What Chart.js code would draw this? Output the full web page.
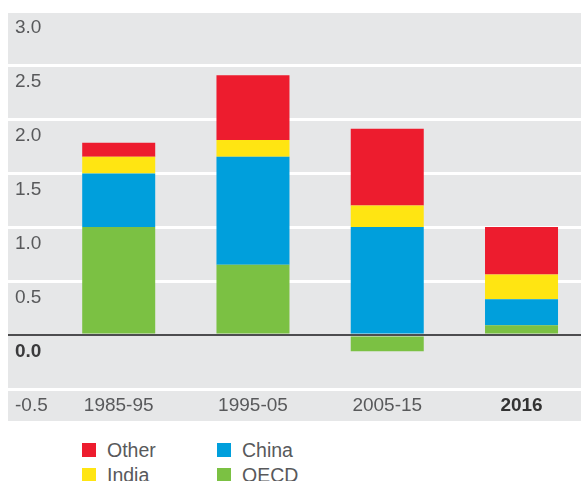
<!DOCTYPE html>
<html>
<head>
<meta charset="utf-8">
<script src="https://cdn.jsdelivr.net/npm/chart.js@4.4.1/dist/chart.umd.min.js"></script>
<style>
  html, body { margin: 0; padding: 0; background: #ffffff; overflow: hidden; }
  #wrap { position: relative; width: 581px; height: 481px; }
  #c { position: absolute; left: 0; top: 0; }
  .lg { position: absolute; font-family: "Liberation Sans", Arial, sans-serif; font-size: 19.5px; color: #58595b; line-height: 20px; white-space: nowrap; }
  .lg .sw { position: absolute; left: 0; top: 3px; width: 14px; height: 14px; }
  .lg .tx { position: absolute; left: 25px; top: 0; }
</style>
</head>
<body>
<div id="wrap">
  <canvas id="c" width="581" height="421"></canvas>
</div>
<script>
// ---- data ----
const categories = ['1985-95', '1995-05', '2005-15', '2016'];
const oecd  = [1.00, 0.65, -0.15, 0.09];
const china = [0.495, 1.00, 1.00, 0.24];
const india = [0.155, 0.155, 0.20, 0.23];
const other = [0.13, 0.60, 0.71, 0.44];
const yTickLabels = ['-0.5', '0.0', '0.5', '1.0', '1.5', '2.0', '2.5', '3.0'];
const seriesNames = ['OECD', 'China', 'India', 'Other'];
const legendOrder = ['Other', 'China', 'India', 'OECD'];

const colors = { OECD: '#7bc143', China: '#009fdc', India: '#ffe512', Other: '#ed1c2e' };
const seriesData = { OECD: oecd, China: china, India: india, Other: other };

const FONT = '"Liberation Sans", Arial, sans-serif';

const datasets = seriesNames.map(name => ({
  label: name,
  data: seriesData[name].map((v, i) => ({ x: i, y: v })),
  backgroundColor: colors[name],
  borderWidth: 0,
  categoryPercentage: 1.0,
  barPercentage: 0.5437
}));

const panelPlugin = {
  id: 'panel',
  beforeDraw(chart) {
    const { ctx, chartArea, scales } = chart;
    ctx.save();
    ctx.fillStyle = '#e6e7e8';
    ctx.fillRect(chartArea.left, chartArea.top, chartArea.right - chartArea.left, scales.x.bottom - chartArea.top);
    ctx.restore();
  },
  afterDatasetsDraw(chart) {
    const { ctx, chartArea, scales } = chart;
    const y0 = scales.y.getPixelForValue(0);
    ctx.save();
    ctx.strokeStyle = '#4d4d4f';
    ctx.lineWidth = 2;
    ctx.beginPath();
    ctx.moveTo(chartArea.left, y0);
    ctx.lineTo(chartArea.right, y0);
    ctx.stroke();
    ctx.restore();
  }
};

new Chart(document.getElementById('c'), {
  type: 'bar',
  data: { datasets },
  plugins: [panelPlugin],
  options: {
    responsive: false,
    animation: false,
    devicePixelRatio: 1,
    layout: { padding: { top: 11, left: 8, right: 0, bottom: 0 } },
    plugins: { legend: { display: false }, tooltip: { enabled: false } },
    scales: {
      x: {
        type: 'linear',
        stacked: true,
        offset: false,
        min: -0.8245,
        max: 3.443,
        grid: { display: false, drawTicks: false, offset: false },
        border: { display: false },
        ticks: {
          stepSize: 1,
          includeBounds: false,
          autoSkip: false,
          maxRotation: 0,
          padding: 5,
          callback: (v) => (Number.isInteger(v) && categories[v] !== undefined) ? categories[v] : '',
          color: (ctx) => ctx.tick && ctx.tick.value === 3 ? '#333333' : '#58595b',
          font: (ctx) => ({ family: FONT, size: 19, weight: ctx.tick && ctx.tick.value === 3 ? 'bold' : 'normal' })
        },
        afterFit(s) { s.height = 32; s.paddingLeft = 0; s.paddingRight = 0; }
      },
      y: {
        stacked: true,
        min: -0.5,
        max: 3.0,
        grid: {
          drawTicks: false,
          color: (ctx) => ctx.tick && ctx.tick.value === 0 ? 'rgba(0,0,0,0)' : '#ffffff',
          lineWidth: 3
        },
        border: { display: false },
        ticks: {
          stepSize: 0.5,
          mirror: true,
          padding: 7,
          labelOffset: 17,
          autoSkip: false,
          callback: (v, i) => yTickLabels[i],
          color: (ctx) => ctx.tick && ctx.tick.value === 0 ? '#3a3a3c' : '#58595b',
          font: (ctx) => ({ family: FONT, size: 19, weight: ctx.tick && ctx.tick.value === 0 ? 'bold' : 'normal' })
        },
        afterFit(s) { s.width = 0; s.paddingTop = 0; s.paddingBottom = 0; }
      }
    }
  }
});

// ---- legend (2 x 2 grid) ----
const wrap = document.getElementById('wrap');
const legendPos = [[82, 440], [217, 440], [82, 465], [217, 465]];
legendOrder.forEach((name, k) => {
  const d = document.createElement('div');
  d.className = 'lg';
  d.style.left = legendPos[k][0] + 'px';
  d.style.top = legendPos[k][1] + 'px';
  const sw = document.createElement('span');
  sw.className = 'sw';
  sw.style.background = colors[name];
  const tx = document.createElement('span');
  tx.className = 'tx';
  tx.textContent = name;
  d.appendChild(sw);
  d.appendChild(tx);
  wrap.appendChild(d);
});
</script>
</body>
</html>
